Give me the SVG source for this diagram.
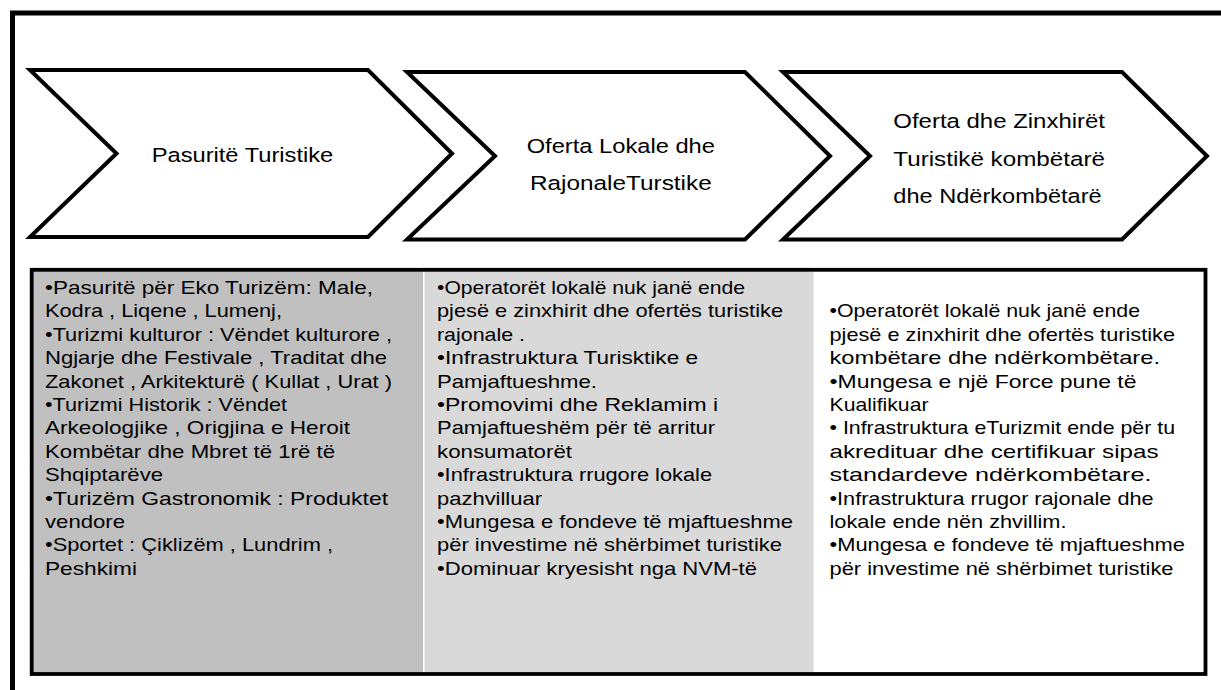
<svg xmlns="http://www.w3.org/2000/svg" width="1221" height="690" viewBox="0 0 1221 690">
<style>
.frame{fill:none;stroke:#000;stroke-width:5}
.chev{fill:#fff;stroke:#000;stroke-width:4;stroke-linejoin:miter}
.ct{font-family:"Liberation Sans",Arial,sans-serif;font-size:20.5px;fill:#000}
.bt{font-family:"Liberation Sans",Arial,sans-serif;font-size:18.5px;fill:#000}
.tbl{fill:none;stroke:#000;stroke-width:3.8;stroke-linecap:square}
</style>
<rect width="1221" height="690" fill="#fff"/>
<rect class="frame" x="12.5" y="13" width="1220" height="700"/>

<g id="node-pasurite">
<path class="chev" d="M30,70 L368,70 L452,153.5 L368,237 L30,237 L116.5,153.5 Z"/>
<text class="ct" x="151.7" y="162.3" textLength="181.6" lengthAdjust="spacingAndGlyphs">Pasuritë Turistike</text>
</g>

<g id="node-oferta-lokale">
<path class="chev" d="M407,72 L745,72 L830,156 L745,239.5 L407,239.5 L495,156 Z"/>
<text class="ct" x="526.7" y="153.3" textLength="188.3" lengthAdjust="spacingAndGlyphs">Oferta Lokale dhe</text>
<text class="ct" x="530" y="190" textLength="181.7" lengthAdjust="spacingAndGlyphs">RajonaleTurstike</text>
</g>

<g id="node-oferta-kombetare">
<path class="chev" d="M783,72 L1122,72 L1207,156 L1122,239.5 L783,239.5 L870,156 Z"/>
<text class="ct" x="893.3" y="127.7" textLength="211.7" lengthAdjust="spacingAndGlyphs">Oferta dhe Zinxhirët</text>
<text class="ct" x="893.3" y="165.7" textLength="211.7" lengthAdjust="spacingAndGlyphs">Turistikë kombëtarë</text>
<text class="ct" x="893.3" y="202.7" textLength="208.3" lengthAdjust="spacingAndGlyphs">dhe Ndërkombëtarë</text>
</g>

<g id="table">
<rect x="32" y="270" width="1173.5" height="404" fill="#fff"/>
<rect x="32" y="270" width="391" height="404" fill="#c0c0c0"/>
<rect x="424.5" y="270" width="389" height="404" fill="#d9d9d9"/>
<rect class="tbl" x="31.7" y="269.8" width="1173.8" height="404.2"/>
</g>

<g id="col-pasurite">
<text class="bt" x="45" y="294" textLength="328" lengthAdjust="spacingAndGlyphs">•Pasuritë për Eko Turizëm: Male,</text>
<text class="bt" x="45" y="317.4" textLength="237" lengthAdjust="spacingAndGlyphs">Kodra , Liqene , Lumenj,</text>
<text class="bt" x="45" y="340.8" textLength="347" lengthAdjust="spacingAndGlyphs">•Turizmi kulturor : Vëndet kulturore ,</text>
<text class="bt" x="45" y="364.2" textLength="342" lengthAdjust="spacingAndGlyphs">Ngjarje dhe Festivale , Traditat dhe</text>
<text class="bt" x="45" y="387.6" textLength="347" lengthAdjust="spacingAndGlyphs">Zakonet , Arkitekturë ( Kullat , Urat )</text>
<text class="bt" x="45" y="411" textLength="242" lengthAdjust="spacingAndGlyphs">•Turizmi Historik : Vëndet</text>
<text class="bt" x="45" y="434.4" textLength="305" lengthAdjust="spacingAndGlyphs">Arkeologjike , Origjina e Heroit</text>
<text class="bt" x="45" y="457.8" textLength="290" lengthAdjust="spacingAndGlyphs">Kombëtar dhe Mbret të 1rë të</text>
<text class="bt" x="45" y="481.2" textLength="118" lengthAdjust="spacingAndGlyphs">Shqiptarëve</text>
<text class="bt" x="45" y="504.6" textLength="343" lengthAdjust="spacingAndGlyphs">•Turizëm Gastronomik : Produktet</text>
<text class="bt" x="45" y="528" textLength="80" lengthAdjust="spacingAndGlyphs">vendore</text>
<text class="bt" x="45" y="551.4" textLength="288" lengthAdjust="spacingAndGlyphs">•Sportet : Çiklizëm , Lundrim ,</text>
<text class="bt" x="45" y="574.8" textLength="92" lengthAdjust="spacingAndGlyphs">Peshkimi</text>
</g>

<g id="col-lokale">
<text class="bt" x="437" y="294" textLength="308" lengthAdjust="spacingAndGlyphs">•Operatorët lokalë nuk janë ende</text>
<text class="bt" x="437" y="317.4" textLength="346" lengthAdjust="spacingAndGlyphs">pjesë e zinxhirit dhe ofertës turistike</text>
<text class="bt" x="437" y="340.8" textLength="88" lengthAdjust="spacingAndGlyphs">rajonale .</text>
<text class="bt" x="437" y="364.2" textLength="261" lengthAdjust="spacingAndGlyphs">•Infrastruktura Turisktike e</text>
<text class="bt" x="437" y="387.6" textLength="160" lengthAdjust="spacingAndGlyphs">Pamjaftueshme.</text>
<text class="bt" x="437" y="411" textLength="281" lengthAdjust="spacingAndGlyphs">•Promovimi dhe Reklamim i</text>
<text class="bt" x="437" y="434.4" textLength="278" lengthAdjust="spacingAndGlyphs">Pamjaftueshëm për të arritur</text>
<text class="bt" x="437" y="457.8" textLength="135" lengthAdjust="spacingAndGlyphs">konsumatorët</text>
<text class="bt" x="437" y="481.2" textLength="275" lengthAdjust="spacingAndGlyphs">•Infrastruktura rrugore lokale</text>
<text class="bt" x="437" y="504.6" textLength="105" lengthAdjust="spacingAndGlyphs">pazhvilluar</text>
<text class="bt" x="437" y="528" textLength="356" lengthAdjust="spacingAndGlyphs">•Mungesa e fondeve të mjaftueshme</text>
<text class="bt" x="437" y="551.4" textLength="345" lengthAdjust="spacingAndGlyphs">për investime në shërbimet turistike</text>
<text class="bt" x="437" y="574.8" textLength="320" lengthAdjust="spacingAndGlyphs">•Dominuar kryesisht nga NVM-të</text>
</g>

<g id="col-kombetare">
<text class="bt" x="829.5" y="317.4" textLength="310.5" lengthAdjust="spacingAndGlyphs">•Operatorët lokalë nuk janë ende</text>
<text class="bt" x="829.5" y="340.8" textLength="345.5" lengthAdjust="spacingAndGlyphs">pjesë e zinxhirit dhe ofertës turistike</text>
<text class="bt" x="829.5" y="364.2" textLength="330.5" lengthAdjust="spacingAndGlyphs">kombëtare dhe ndërkombëtare.</text>
<text class="bt" x="829.5" y="387.6" textLength="307" lengthAdjust="spacingAndGlyphs">•Mungesa e një Force pune të</text>
<text class="bt" x="829.5" y="411" textLength="99" lengthAdjust="spacingAndGlyphs">Kualifikuar</text>
<text class="bt" x="829.5" y="434.4" textLength="345.5" lengthAdjust="spacingAndGlyphs">• Infrastruktura eTurizmit ende për tu</text>
<text class="bt" x="829.5" y="457.8" textLength="329" lengthAdjust="spacingAndGlyphs">akredituar dhe certifikuar sipas</text>
<text class="bt" x="829.5" y="481.2" textLength="322" lengthAdjust="spacingAndGlyphs">standardeve ndërkombëtare.</text>
<text class="bt" x="829.5" y="504.6" textLength="324" lengthAdjust="spacingAndGlyphs">•Infrastruktura rrugor rajonale dhe</text>
<text class="bt" x="829.5" y="528" textLength="237" lengthAdjust="spacingAndGlyphs">lokale ende nën zhvillim.</text>
<text class="bt" x="829.5" y="551.4" textLength="355.5" lengthAdjust="spacingAndGlyphs">•Mungesa e fondeve të mjaftueshme</text>
<text class="bt" x="829.5" y="574.8" textLength="344" lengthAdjust="spacingAndGlyphs">për investime në shërbimet turistike</text>
</g>
</svg>
